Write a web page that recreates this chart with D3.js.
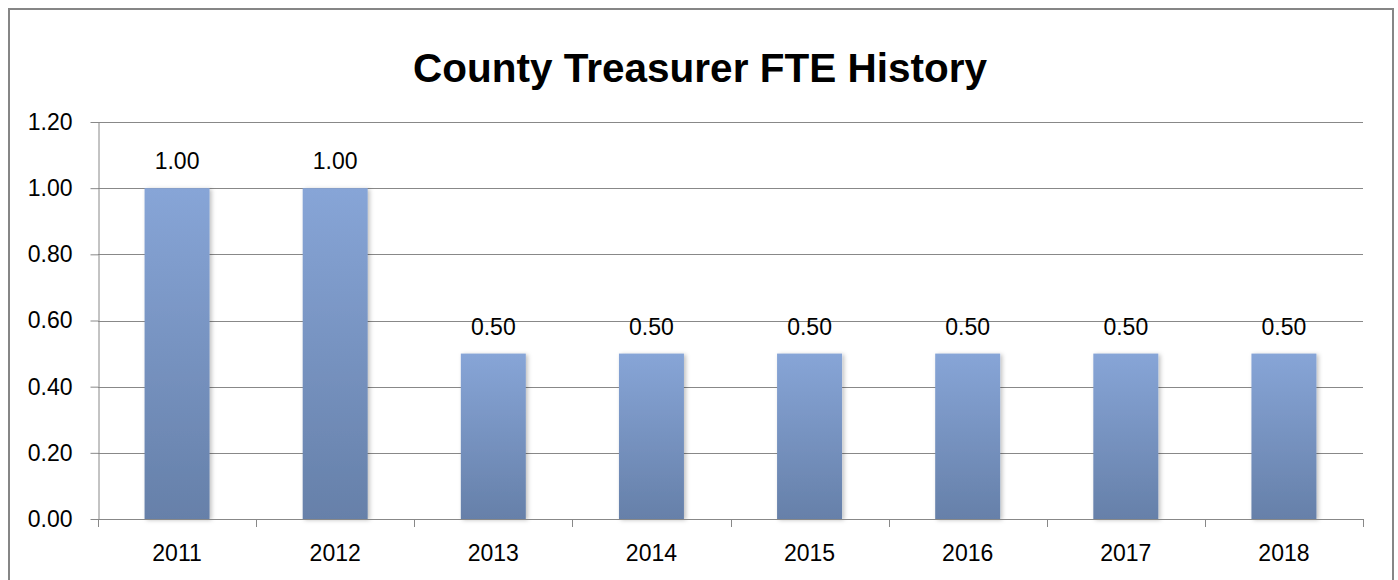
<!DOCTYPE html>
<html>
<head>
<meta charset="utf-8">
<script src="https://cdn.jsdelivr.net/npm/d3@7"></script>
<style>
  body { margin: 0; background: #fff; }
  text { font-family: "Liberation Sans", Arial, sans-serif; fill: #000; }
</style>
</head>
<body>
<div id="graph"></div>
<script>
var svgWidth = 1398;
var svgHeight = 580;

var years = ["2011", "2012", "2013", "2014", "2015", "2016", "2017", "2018"];
var fte = [1.00, 1.00, 0.50, 0.50, 0.50, 0.50, 0.50, 0.50];
var yTicks = [0, 0.2, 0.4, 0.6, 0.8, 1.0, 1.2];
var chartTitle = "County Treasurer FTE History";

var data = years.map((y, i) => ({ year: y, value: fte[i] }));

var svg = d3.select("#graph")
	.append("svg")
	.attr("width", svgWidth)
	.attr("height", svgHeight);

var defs = svg.append("defs");

var grad = defs.append("linearGradient")
	.attr("id", "barGrad")
	.attr("x1", 0).attr("y1", 0)
	.attr("x2", 0).attr("y2", 1);
grad.append("stop").attr("offset", "0%").attr("stop-color", "#87a5d7");
grad.append("stop").attr("offset", "100%").attr("stop-color", "#6680a9");

var shadow = defs.append("filter")
	.attr("id", "barShadow")
	.attr("x", "-20%").attr("y", "-10%")
	.attr("width", "150%").attr("height", "120%");
shadow.append("feDropShadow")
	.attr("dx", 2).attr("dy", 1)
	.attr("stdDeviation", 2)
	.attr("flood-color", "#000")
	.attr("flood-opacity", 0.25);

// outer chart border (bottom edge runs off the picture)
svg.append("rect")
	.attr("x", 9)
	.attr("y", 9)
	.attr("width", 1384)
	.attr("height", 600)
	.attr("fill", "none")
	.attr("stroke", "#868686")
	.attr("stroke-width", 2);

var plotLeft = 98, plotRight = 1363, plotTop = 122, plotBottom = 519;
var labelSize = "23px";

var x = d3.scaleBand()
	.domain(years)
	.range([plotLeft, plotRight])
	.paddingInner(0.589)
	.paddingOuter(0.589 / 2);

var y = d3.scaleLinear()
	.domain([0, 1.2])
	.range([plotBottom, plotTop]);

// gridlines
svg.append("g")
	.selectAll("line")
	.data(yTicks.filter(d => d > 0))
	.enter()
	.append("line")
	.attr("x1", plotLeft)
	.attr("x2", plotRight)
	.attr("y1", d => Math.round(y(d)) + 0.5)
	.attr("y2", d => Math.round(y(d)) + 0.5)
	.attr("stroke", "#888")
	.attr("stroke-width", 1);

// y axis
var yAxis = svg.append("g")
	.attr("transform", "translate(" + (plotLeft + 0.5) + ",0)")
	.call(d3.axisLeft(y)
		.tickValues(yTicks)
		.tickFormat(d3.format(".2f"))
		.tickSizeInner(8)
		.tickSizeOuter(0)
		.tickPadding(18));
yAxis.select(".domain").attr("stroke", "#888");
yAxis.selectAll(".tick line").attr("stroke", "#888");
yAxis.selectAll(".tick text")
	.style("font-size", labelSize)
	.attr("fill", "#000");

// bars
svg.append("g")
	.selectAll("rect")
	.data(data)
	.enter()
	.append("rect")
	.attr("x", d => x(d.year))
	.attr("y", d => y(d.value))
	.attr("width", x.bandwidth())
	.attr("height", d => y(0) - y(d.value))
	.attr("fill", "url(#barGrad)")
	.attr("filter", "url(#barShadow)");

// x axis with ticks at category boundaries
var step = x.step();
var bounds = d3.range(years.length + 1).map(i => plotLeft + i * step);
var xAxis = svg.append("g");
xAxis.append("line")
	.attr("x1", plotLeft)
	.attr("x2", plotRight)
	.attr("y1", plotBottom + 0.5)
	.attr("y2", plotBottom + 0.5)
	.attr("stroke", "#888");
xAxis.selectAll(".bt")
	.data(bounds)
	.enter()
	.append("line")
	.attr("class", "bt")
	.attr("x1", d => Math.round(d) + 0.5)
	.attr("x2", d => Math.round(d) + 0.5)
	.attr("y1", plotBottom)
	.attr("y2", plotBottom + 8)
	.attr("stroke", "#888");
xAxis.selectAll("text")
	.data(years)
	.enter()
	.append("text")
	.attr("x", d => x(d) + x.bandwidth() / 2)
	.attr("y", 561)
	.attr("text-anchor", "middle")
	.style("font-size", labelSize)
	.text(d => d);

// value labels
svg.append("g")
	.selectAll("text")
	.data(data)
	.enter()
	.append("text")
	.attr("x", d => x(d.year) + x.bandwidth() / 2)
	.attr("y", d => y(d.value) - 19)
	.attr("text-anchor", "middle")
	.style("font-size", labelSize)
	.text(d => d3.format(".2f")(d.value));

// title
svg.append("text")
	.attr("x", 700)
	.attr("y", 82)
	.attr("text-anchor", "middle")
	.style("font-size", "40.5px")
	.style("font-weight", "bold")
	.text(chartTitle);
</script>
</body>
</html>
